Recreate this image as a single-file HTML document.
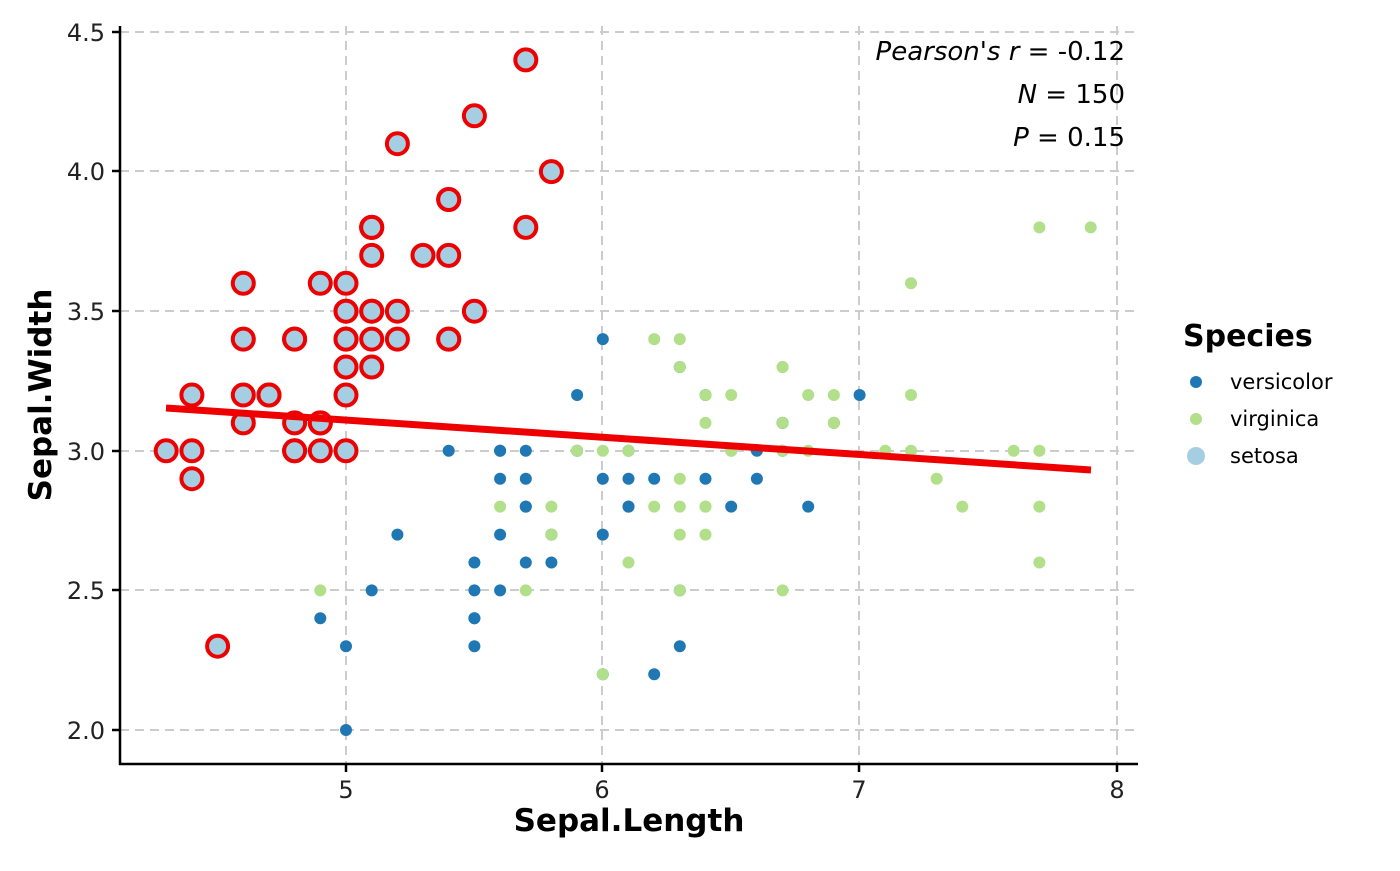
<!DOCTYPE html>
<html><head><meta charset="utf-8"><style>
html,body{margin:0;padding:0;background:#fff;}
svg text{font-family:"DejaVu Sans","Liberation Sans",sans-serif;}
</style></head><body>
<svg id="s" width="1400" height="866" viewBox="0 0 1400 866" xmlns="http://www.w3.org/2000/svg">
<g stroke="#cccccc" stroke-width="2" stroke-dasharray="9,6" fill="none">
<line x1="346" y1="26" x2="346" y2="764"/><line x1="602" y1="26" x2="602" y2="764"/>
<line x1="859" y1="26" x2="859" y2="764"/><line x1="1117" y1="26" x2="1117" y2="764"/>
<line x1="120" y1="730" x2="1138" y2="730"/><line x1="120" y1="590" x2="1138" y2="590"/>
<line x1="120" y1="451" x2="1138" y2="451"/><line x1="120" y1="311" x2="1138" y2="311"/>
<line x1="120" y1="171" x2="1138" y2="171"/><line x1="120" y1="32" x2="1138" y2="32"/>
</g>
<g id="pts"></g>
<line x1="166" y1="408" x2="1091" y2="470" stroke="#ee0000" stroke-width="7"/>
<g stroke="#000" stroke-width="2.5">
<line x1="120" y1="26" x2="120" y2="765"/><line x1="119" y1="764" x2="1138" y2="764"/>
<line x1="112" y1="730" x2="120" y2="730"/><line x1="112" y1="590" x2="120" y2="590"/>
<line x1="112" y1="451" x2="120" y2="451"/><line x1="112" y1="311" x2="120" y2="311"/>
<line x1="112" y1="171" x2="120" y2="171"/><line x1="112" y1="32" x2="120" y2="32"/>
<line x1="346" y1="764" x2="346" y2="772"/><line x1="602" y1="764" x2="602" y2="772"/>
<line x1="859" y1="764" x2="859" y2="772"/><line x1="1117" y1="764" x2="1117" y2="772"/>
</g>
<g font-size="24" fill="#222" text-anchor="end">
<text x="105" y="739">2.0</text><text x="105" y="599">2.5</text><text x="105" y="460">3.0</text>
<text x="105" y="320">3.5</text><text x="105" y="180">4.0</text><text x="105" y="41">4.5</text>
</g>
<g font-size="24" fill="#222" text-anchor="middle">
<text x="346" y="798">5</text><text x="602" y="798">6</text><text x="859" y="798">7</text><text x="1117" y="798">8</text>
</g>
<text x="629" y="831" font-size="31" font-weight="bold" text-anchor="middle">Sepal.Length</text>
<text transform="translate(51,395) rotate(-90)" font-size="31" font-weight="bold" text-anchor="middle">Sepal.Width</text>
<g font-size="26" text-anchor="end" fill="#000">
<text x="1125" y="60"><tspan font-style="italic">Pearson's r</tspan> = -0.12</text>
<text x="1125" y="103"><tspan font-style="italic">N</tspan> = 150</text>
<text x="1125" y="146"><tspan font-style="italic">P</tspan> = 0.15</text>
</g>
<text x="1183" y="346" font-size="30" font-weight="bold">Species</text>
<circle cx="1196" cy="382" r="6" fill="#1f78b4"/><text x="1230" y="389" font-size="21">versicolor</text>
<circle cx="1196" cy="419" r="6" fill="#b2df8a"/><text x="1230" y="426" font-size="21">virginica</text>
<circle cx="1196" cy="456" r="9" fill="#a6cee3"/><text x="1230" y="463" font-size="21">setosa</text>
</svg>
<script>
var se=[5.1,3.5,4.9,3.0,4.7,3.2,4.6,3.1,5.0,3.6,5.4,3.9,4.6,3.4,5.0,3.4,4.4,2.9,4.9,3.1,5.4,3.7,4.8,3.4,4.8,3.0,4.3,3.0,5.8,4.0,5.7,4.4,5.4,3.9,5.1,3.5,5.7,3.8,5.1,3.8,5.4,3.4,5.1,3.7,4.6,3.6,5.1,3.3,4.8,3.4,5.0,3.0,5.0,3.4,5.2,3.5,5.2,3.4,4.7,3.2,4.8,3.1,5.4,3.4,5.2,4.1,5.5,4.2,4.9,3.1,5.0,3.2,5.5,3.5,4.9,3.6,4.4,3.0,5.1,3.4,5.0,3.5,4.5,2.3,4.4,3.2,5.0,3.5,5.1,3.8,4.8,3.0,5.1,3.8,4.6,3.2,5.3,3.7,5.0,3.3];
var ve=[7.0,3.2,6.4,3.2,6.9,3.1,5.5,2.3,6.5,2.8,5.7,2.8,6.3,3.3,4.9,2.4,6.6,2.9,5.2,2.7,5.0,2.0,5.9,3.0,6.0,2.2,6.1,2.9,5.6,2.9,6.7,3.1,5.6,3.0,5.8,2.7,6.2,2.2,5.6,2.5,5.9,3.2,6.1,2.8,6.3,2.5,6.1,2.8,6.4,2.9,6.6,3.0,6.8,2.8,6.7,3.0,6.0,2.9,5.7,2.6,5.5,2.4,5.5,2.4,5.8,2.7,6.0,2.7,5.4,3.0,6.0,3.4,6.7,3.1,6.3,2.3,5.6,3.0,5.5,2.5,5.5,2.6,6.1,3.0,5.8,2.6,5.0,2.3,5.6,2.7,5.7,3.0,5.7,2.9,6.2,2.9,5.1,2.5,5.7,2.8];
var vi=[6.3,3.3,5.8,2.7,7.1,3.0,6.3,2.9,6.5,3.0,7.6,3.0,4.9,2.5,7.3,2.9,6.7,2.5,7.2,3.6,6.5,3.2,6.4,2.7,6.8,3.0,5.7,2.5,5.8,2.8,6.4,3.2,6.5,3.0,7.7,3.8,7.7,2.6,6.0,2.2,6.9,3.2,5.6,2.8,7.7,2.8,6.3,2.7,6.7,3.3,7.2,3.2,6.2,2.8,6.1,3.0,6.4,2.8,7.2,3.0,7.4,2.8,7.9,3.8,6.4,2.8,6.3,2.8,6.1,2.6,7.7,3.0,6.3,3.4,6.4,3.1,6.0,3.0,6.9,3.1,6.7,3.1,6.9,3.1,5.8,2.7,6.8,3.2,6.7,3.3,6.7,3.0,6.3,2.5,6.5,3.0,6.2,3.4,5.9,3.0];
function X(v){return 346+(v-5)*256.8}function Y(v){return 730-(v-2)*279.2}
var h='';
function add(a,attr){for(var i=0;i<a.length;i+=2)h+='<circle cx="'+X(a[i]).toFixed(1)+'" cy="'+Y(a[i+1]).toFixed(1)+'" '+attr+'/>';}
add(ve,'r="6" fill="#1f78b4"');add(vi,'r="6" fill="#b2df8a"');
add(se,'r="10.5" fill="#a6cee3" stroke="#ee0000" stroke-width="4"');
document.getElementById('pts').innerHTML=h;
</script>
</body></html>
